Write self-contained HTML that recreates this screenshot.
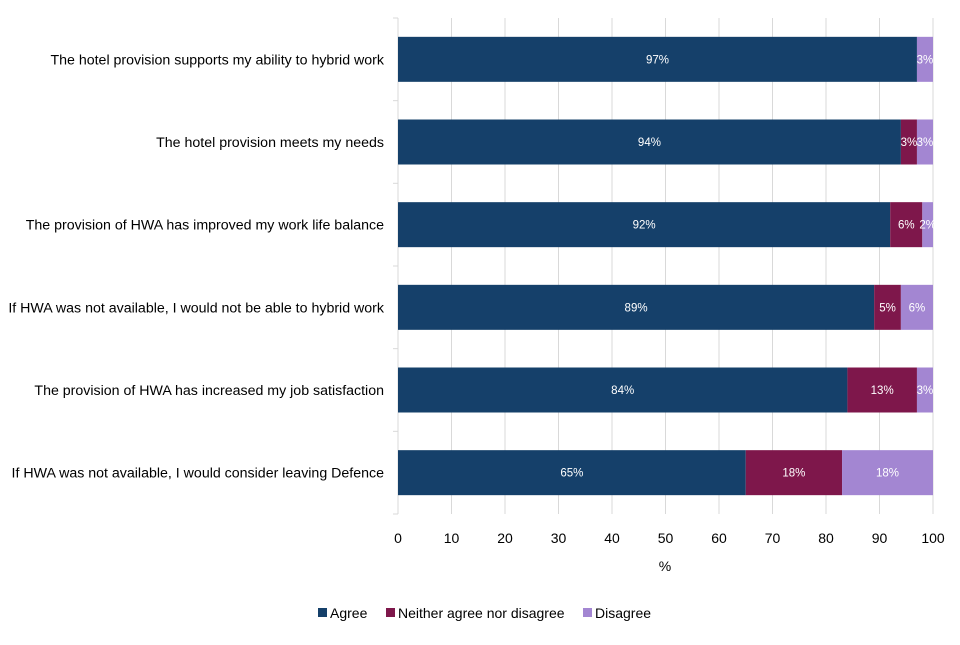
<!DOCTYPE html>
<html><head><meta charset="utf-8"><style>
body{margin:0;background:#fff;width:960px;height:640px;overflow:hidden;font-family:"Liberation Sans",sans-serif}
</style></head><body>
<svg id="chart" width="960" height="640" xmlns="http://www.w3.org/2000/svg"></svg>
<script>
const categories=["The hotel provision supports my ability to hybrid work","The hotel provision meets my needs","The provision of HWA has improved my work life balance","If HWA was not available, I would not be able to hybrid work","The provision of HWA has increased my job satisfaction","If HWA was not available, I would consider leaving Defence"];
const agree=[97,94,92,89,84,65];
const neither=[0,3,6,5,13,18];
const disagree=[3,3,2,6,3,17];
const agreeLabels=["97%","94%","92%","89%","84%","65%"];
const neitherLabels=["","3%","6%","5%","13%","18%"];
const disagreeLabels=["3%","3%","2%","6%","3%","18%"];
const xTicks=[0,10,20,30,40,50,60,70,80,90,100];
const seriesNames=["Agree","Neither agree nor disagree","Disagree"];
const colors=["#15406a","#7e174b","#a386d2"];

const svg=document.getElementById('chart');
const NS="http://www.w3.org/2000/svg";
const X0=398,X1=933,Y0=18,Y1=514;
const x=v=>X0+(X1-X0)*v/100;
const band=(Y1-Y0)/categories.length;
const y=i=>Y0+band*i;
function mk(t,a,p){const e=document.createElementNS(NS,t);for(const k in a)e.setAttribute(k,a[k]);(p||svg).appendChild(e);return e;}

xTicks.forEach(t=>{
  const g=mk('line',{x1:x(t),x2:x(t),y1:Y0,y2:Y1,stroke:'#d9d9d9','stroke-width':1});
  
  
  const l=mk('text',{x:x(t),y:543,'text-anchor':'middle','font-size':14,fill:'#000'});
  l.textContent=t;
  
  
});
const ax=mk('line',{x1:X0,x2:X0,y1:Y0,y2:Y1,stroke:'#d9d9d9'});


for(let i=0;i<=categories.length;i++){
  const tk=mk('line',{x1:X0-5,x2:X0,y1:y(i),y2:y(i),stroke:'#d9d9d9'});
  
  
}
const xt=mk('text',{x:665,y:571,'text-anchor':'middle','font-size':14});
xt.textContent='%';



categories.forEach((c,i)=>{
  const cy=y(i)+band/2;
  const lab=mk('text',{x:384,y:cy+5,'text-anchor':'end','font-size':14.2,fill:'#000'});
  lab.textContent=c;
  
  
  const vals=[agree[i],neither[i],disagree[i]];
  const labs=[agreeLabels[i],neitherLabels[i],disagreeLabels[i]];
  let acc=0;
  vals.forEach((v,s)=>{
    const end=Math.min(100,acc+v);
    if(end>acc){
      const r=mk('rect',{x:x(acc),y:cy-22.5,width:x(end)-x(acc),height:45,fill:colors[s]});
      
      
      if(labs[s]){
        const t=mk('text',{x:(x(acc)+x(end))/2,y:cy+4,'text-anchor':'middle','font-size':11.5,fill:'#fff'});
        t.textContent=labs[s];
        
        
      }
    }
    acc=end;
  });
});

const lx=[318,386,583];
seriesNames.forEach((n,s)=>{
  const r=mk('rect',{x:lx[s],y:608,width:9,height:9,fill:colors[s]});
  
  
  const t=mk('text',{x:lx[s]+12,y:618,'font-size':14});
  t.textContent=n;
  
  
});
</script>
</body></html>
